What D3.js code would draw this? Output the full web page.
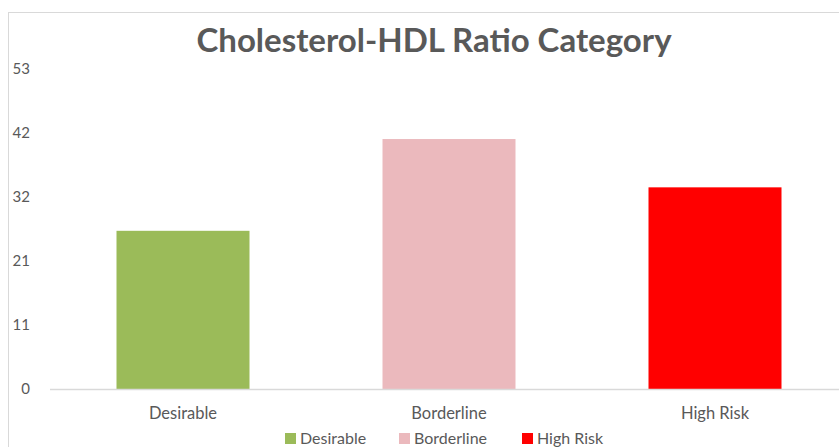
<!DOCTYPE html>
<html>
<head>
<meta charset="utf-8">
<script src="https://cdn.jsdelivr.net/npm/d3@7"></script>
<style>
  body { margin: 0; background: #fff; }
  text { font-family: Lato, "Open Sans", sans-serif; }
</style>
</head>
<body>
<svg width="839" height="447"></svg>
<script>
var categories = ["Desirable", "Borderline", "High Risk"],
    values = [26.2, 41.4, 33.4],
    colors = ["#9bbb59", "#ebb9bd", "#ff0000"],
    yTicks = [0, 10.6, 21.2, 31.8, 42.4, 53];

var margin = { top: 69, right: -9, bottom: 58, left: 50 },
    width = 839 - margin.left - margin.right,
    height = 447 - margin.top - margin.bottom;

var svg = d3.select("svg");

// chart frame
svg.append("rect")
    .attr("x", 8.5).attr("y", 12.5)
    .attr("width", 860).attr("height", 460)
    .attr("fill", "none")
    .attr("stroke", "#d9d9d9");

svg.append("text")
    .attr("x", 434).attr("y", 52)
    .attr("text-anchor", "middle")
    .attr("font-size", 33)
    .attr("font-weight", "bold")
    .attr("fill", "#595959")
    .text("Cholesterol-HDL Ratio Category");

var g = svg.append("g")
    .attr("transform", "translate(" + margin.left + "," + margin.top + ")");

var x = d3.scaleBand().domain(categories).range([0, width])
        .paddingInner(0.5).paddingOuter(0.25),
    y = d3.scaleLinear().domain([0, 53]).range([height, 0]);

// y tick labels
g.selectAll(".ytick")
    .data(yTicks)
    .enter().append("text")
    .attr("class", "ytick")
    .attr("x", -20)
    .attr("y", function(d) { return y(d); })
    .attr("dy", ".35em")
    .attr("text-anchor", "end")
    .attr("font-size", 15)
    .attr("fill", "#595959")
    .text(d3.format(".0f"));

g.selectAll(".bar")
    .data(values)
    .enter().append("rect")
    .attr("class", "bar")
    .attr("x", function(d, i) { return x(categories[i]); })
    .attr("y", function(d) { return y(d); })
    .attr("width", x.bandwidth())
    .attr("height", function(d) { return height - y(d); })
    .attr("fill", function(d, i) { return colors[i]; });

// baseline
g.append("line")
    .attr("x1", 0).attr("x2", width)
    .attr("y1", height + 0.5).attr("y2", height + 0.5)
    .attr("stroke", "#d9d9d9")
    .attr("stroke-width", 1.5);

g.selectAll(".xlab")
    .data(categories)
    .enter().append("text")
    .attr("class", "xlab")
    .attr("x", function(d) { return x(d) + x.bandwidth() / 2; })
    .attr("y", height + 30)
    .attr("text-anchor", "middle")
    .attr("font-size", 16.5)
    .attr("fill", "#595959")
    .text(function(d) { return d; });

// legend
var legendX = [285, 399, 522];
var legend = svg.selectAll(".legend")
    .data(categories)
    .enter().append("g")
    .attr("class", "legend")
    .attr("transform", function(d, i) { return "translate(" + legendX[i] + ",433)"; });

legend.append("rect")
    .attr("width", 11).attr("height", 11)
    .attr("fill", function(d, i) { return colors[i]; });

legend.append("text")
    .attr("x", 15).attr("y", 11)
    .attr("font-size", 16)
    .attr("fill", "#595959")
    .text(function(d) { return d; });
</script>
</body>
</html>
